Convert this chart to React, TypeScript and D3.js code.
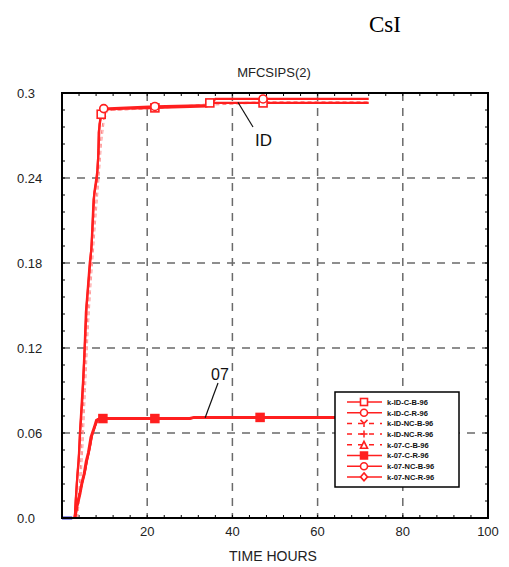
import React from "react";
import * as d3 from "d3";

// ---------- data ----------
const xTicks = [20, 40, 60, 80, 100];
const yTicks = [0.3, 0.24, 0.18, 0.12, 0.06, 0.0];
const yTickLabels = ["0.3", "0.24", "0.18", "0.12", "0.06", "0.0"];

const idCBHours = [3.0, 3.2, 3.5, 3.9, 4.2, 4.6, 5.0, 5.3, 5.6, 6.0, 6.5, 6.9, 7.4, 8.2, 8.5, 8.6, 9.2, 9.8, 15, 21.8, 34.0, 34.7, 47.2, 72];
const idCBValues = [0, 0.012, 0.025, 0.04, 0.06, 0.08, 0.1, 0.12, 0.145, 0.16, 0.18, 0.19, 0.225, 0.24, 0.255, 0.272, 0.285, 0.2885, 0.289, 0.2895, 0.2905, 0.293, 0.293, 0.293];

const idCRHours = [3.0, 3.3, 3.6, 4.0, 4.3, 4.8, 5.2, 5.5, 5.8, 6.2, 6.7, 7.0, 7.6, 8.3, 8.6, 8.8, 9.3, 9.8, 21.8, 34.7, 36.0, 47.2, 72];
const idCRValues = [0, 0.015, 0.03, 0.045, 0.062, 0.085, 0.11, 0.13, 0.15, 0.165, 0.183, 0.195, 0.23, 0.245, 0.26, 0.278, 0.287, 0.289, 0.2905, 0.2915, 0.2958, 0.2958, 0.2958];

const idNCBHours = [3.5, 4.0, 4.6, 5.2, 5.8, 6.4, 7.0, 7.6, 8.4, 9.0, 9.6, 10.4, 22, 35, 48, 72];
const idNCBValues = [0, 0.02, 0.05, 0.09, 0.13, 0.16, 0.185, 0.21, 0.24, 0.265, 0.28, 0.2875, 0.289, 0.2915, 0.293, 0.293];

const idNCRHours = [3.7, 4.3, 4.9, 5.5, 6.1, 6.7, 7.3, 7.9, 8.7, 9.3, 9.9, 10.7, 22, 35, 48, 72];
const idNCRValues = [0, 0.02, 0.05, 0.09, 0.13, 0.16, 0.185, 0.21, 0.24, 0.265, 0.28, 0.2875, 0.2895, 0.2925, 0.294, 0.294];

const o7CBHours = [3.2, 3.8, 4.5, 5.0, 5.6, 6.2, 6.8, 7.4, 8.0, 8.6, 9.4, 22, 47, 72];
const o7CBValues = [0, 0.01, 0.02, 0.03, 0.038, 0.048, 0.055, 0.062, 0.067, 0.0695, 0.0702, 0.0702, 0.0712, 0.0712];

const o7CRHours = [3.0, 3.5, 4.2, 4.7, 5.2, 5.7, 6.2, 6.8, 7.6, 8.1, 8.9, 9.6, 21.8, 30, 31, 46.5, 72];
const o7CRValues = [0, 0.008, 0.017, 0.025, 0.031, 0.04, 0.046, 0.057, 0.064, 0.069, 0.0702, 0.0702, 0.0702, 0.0702, 0.071, 0.071, 0.071];

const o7NCBHours = [3.1, 3.7, 4.4, 5.0, 5.5, 6.0, 6.6, 7.2, 7.9, 8.5, 9.2, 22, 30, 31, 72];
const o7NCBValues = [0, 0.012, 0.02, 0.028, 0.034, 0.043, 0.05, 0.06, 0.066, 0.0698, 0.07, 0.07, 0.07, 0.0708, 0.0708];

const o7NCRHours = [3.0, 3.6, 4.3, 4.9, 5.4, 6.0, 6.5, 7.1, 7.8, 8.4, 9.1, 22, 30, 31, 72];
const o7NCRValues = [0, 0.01, 0.019, 0.027, 0.033, 0.042, 0.049, 0.059, 0.065, 0.0695, 0.0704, 0.0704, 0.0704, 0.0711, 0.0711];

const blueHours = [0, 2.4];
const blueValues = [0, 0];

const seriesNames = ["k-ID-C-B-96", "k-ID-C-R-96", "k-ID-NC-B-96", "k-ID-NC-R-96", "k-07-C-B-96", "k-07-C-R-96", "k-07-NC-B-96", "k-07-NC-R-96"];

type Sym = "square" | "circle" | "tri" | "plus" | "triangle" | "fsquare" | "circle2" | "diamond";

const series: { name: string; hours: number[]; values: number[]; dashed: boolean; sym: Sym; width: number; color: string; markers: number[] }[] = [
  { name: seriesNames[2], hours: idNCBHours, values: idNCBValues, dashed: true, sym: "tri", width: 1, color: "#ff8080", markers: [] },
  { name: seriesNames[3], hours: idNCRHours, values: idNCRValues, dashed: true, sym: "plus", width: 1, color: "#ff9a9a", markers: [] },
  { name: seriesNames[0], hours: idCBHours, values: idCBValues, dashed: false, sym: "square", width: 2.2, color: "#ff1f1f", markers: [9.2, 21.8, 34.7, 47.2] },
  { name: seriesNames[1], hours: idCRHours, values: idCRValues, dashed: false, sym: "circle", width: 2.2, color: "#ff1f1f", markers: [9.8, 21.8, 47.2] },
  { name: seriesNames[4], hours: o7CBHours, values: o7CBValues, dashed: true, sym: "triangle", width: 1, color: "#ff8080", markers: [] },
  { name: seriesNames[6], hours: o7NCBHours, values: o7NCBValues, dashed: false, sym: "circle2", width: 1.8, color: "#ff2a2a", markers: [] },
  { name: seriesNames[7], hours: o7NCRHours, values: o7NCRValues, dashed: false, sym: "diamond", width: 1.8, color: "#ff2a2a", markers: [] },
  { name: seriesNames[5], hours: o7CRHours, values: o7CRValues, dashed: false, sym: "fsquare", width: 3, color: "#ff1f1f", markers: [9.6, 21.8, 46.5] },
];

const legendSyms: { sym: Sym; dashed: boolean }[] = [
  { sym: "square", dashed: false },
  { sym: "circle", dashed: false },
  { sym: "tri", dashed: true },
  { sym: "plus", dashed: true },
  { sym: "triangle", dashed: true },
  { sym: "fsquare", dashed: false },
  { sym: "circle2", dashed: false },
  { sym: "diamond", dashed: false },
];

// ---------- layout ----------
const W = 509;
const H = 567;
const M = { left: 62, right: 488, top: 93, bottom: 518 };
const FONT = "'Liberation Sans', Arial, sans-serif";

const x = d3.scaleLinear().domain([0, 100]).range([M.left, M.right]);
const y = d3.scaleLinear().domain([0, 0.3]).range([M.bottom, M.top]);

function valueAt(hours: number[], values: number[], h: number) {
  const i = d3.bisectRight(hours, h) - 1;
  return values[Math.max(0, i)];
}

function Marker({ sym, cx, cy, color, s = 4 }: { sym: Sym; cx: number; cy: number; color: string; s?: number }) {
  const common = { stroke: color, strokeWidth: 1.6, fill: "white" };
  switch (sym) {
    case "square":
      return <rect x={cx - s} y={cy - s} width={2 * s} height={2 * s} {...common} />;
    case "fsquare":
      return <rect x={cx - s} y={cy - s} width={2 * s} height={2 * s} stroke={color} strokeWidth={1.5} fill={color} />;
    case "circle":
    case "circle2":
      return <circle cx={cx} cy={cy} r={s} {...common} />;
    case "diamond":
      return <path d={`M${cx},${cy - s - 0.5}L${cx + s},${cy}L${cx},${cy + s + 0.5}L${cx - s},${cy}Z`} {...common} />;
    case "triangle":
      return <path d={`M${cx},${cy - s}L${cx + s},${cy + s}L${cx - s},${cy + s}Z`} {...common} />;
    case "plus":
      return <path d={`M${cx - s},${cy}H${cx + s}M${cx},${cy - s}V${cy + s}`} stroke={color} strokeWidth={1.5} fill="none" />;
    case "tri":
      return <path d={`M${cx},${cy}V${cy + s}M${cx},${cy}L${cx - s},${cy - s}M${cx},${cy}L${cx + s},${cy - s}`} stroke={color} strokeWidth={1.5} fill="none" />;
  }
  return null;
}

export default function App() {
  const line = d3
    .line<[number, number]>()
    .x((d) => x(d[0]))
    .y((d) => y(d[1]));

  const minorX = d3.range(0, 100.001, 4);
  const minorY = d3.range(0, 0.3001, 0.012);
  const gridX = xTicks.filter((t) => t < 100);
  const gridY = yTicks.filter((t) => t > 0 && t < 0.3);

  const legend = { x: 335, y: 392, w: 124, h: 95, row0: 402, rowH: 10.7 };

  return (
    <svg width={W} height={H} style={{ position: "absolute", left: 0, top: 0, background: "white" }}>
      <rect x={0} y={0} width={W} height={H} fill="white" />
      <text x={385} y={32} textAnchor="middle" fontFamily="'Liberation Serif', 'Times New Roman', serif" fontSize={23} fill="#000">
        CsI
      </text>
      <text x={274} y={77} textAnchor="middle" fontFamily={FONT} fontSize={13} fill="#222">
        MFCSIPS(2)
      </text>

      {/* grid */}
      {gridX.map((t) => (
        <line key={"gx" + t} x1={x(t)} x2={x(t)} y1={M.top} y2={M.bottom} stroke="#6a6a6a" strokeWidth={1.5} strokeDasharray="8,7" />
      ))}
      {gridY.map((t) => (
        <line key={"gy" + t} x1={M.left} x2={M.right} y1={y(t)} y2={y(t)} stroke="#6a6a6a" strokeWidth={1.5} strokeDasharray="8,7" />
      ))}

      {/* minor ticks */}
      {minorX.map((t) => (
        <g key={"mx" + t}>
          <line x1={x(t)} x2={x(t)} y1={M.bottom} y2={M.bottom - 3} stroke="#000" strokeWidth={1} />
          <line x1={x(t)} x2={x(t)} y1={M.top} y2={M.top + 3} stroke="#000" strokeWidth={1} />
        </g>
      ))}
      {minorY.map((t) => (
        <g key={"my" + t}>
          <line x1={M.left} x2={M.left + 3} y1={y(t)} y2={y(t)} stroke="#000" strokeWidth={1} />
          <line x1={M.right} x2={M.right - 3} y1={y(t)} y2={y(t)} stroke="#000" strokeWidth={1} />
        </g>
      ))}

      {/* series lines */}
      {series.map((s) => (
        <path
          key={s.name}
          d={line(s.hours.map((h, i) => [h, s.values[i]] as [number, number])) || ""}
          fill="none"
          stroke={s.color}
          strokeWidth={s.width}
          strokeDasharray={s.dashed ? "4,3" : undefined}
        />
      ))}
      {series.map((s) =>
        s.markers.map((h) => (
          <Marker key={s.name + h} sym={s.sym} cx={x(h)} cy={y(valueAt(s.hours, s.values, h))} color={s.color} />
        ))
      )}
      <path
        d={line(blueHours.map((h, i) => [h, blueValues[i]] as [number, number])) || ""}
        fill="none"
        stroke="#2a2ad0"
        strokeWidth={3}
      />

      {/* annotations */}
      <line x1={x(41.3)} y1={y(0.2935)} x2={253} y2={127} stroke="#111" strokeWidth={1.2} />
      <text x={255} y={146} fontFamily={FONT} fontSize={17} fill="#111">
        ID
      </text>
      <line x1={x(33.6)} y1={y(0.0708)} x2={218} y2={383} stroke="#111" strokeWidth={1.2} />
      <text x={211} y={380} fontFamily={FONT} fontSize={16} fill="#111">
        07
      </text>

      {/* frame */}
      <rect x={M.left} y={M.top} width={M.right - M.left} height={M.bottom - M.top} fill="none" stroke="#000" strokeWidth={2} />

      {/* tick labels */}
      {yTicks.map((t, i) => (
        <text key={"yl" + t} x={17} y={y(t) + 5} fontFamily={FONT} fontSize={13} fill="#222">
          {yTickLabels[i]}
        </text>
      ))}
      {xTicks.map((t) => (
        <text key={"xl" + t} x={x(t)} y={536} textAnchor="middle" fontFamily={FONT} fontSize={13} fill="#222">
          {t}
        </text>
      ))}
      <text x={273} y={561} textAnchor="middle" fontFamily={FONT} fontSize={14} fill="#222">
        TIME HOURS
      </text>

      {/* legend */}
      <rect x={legend.x} y={legend.y} width={legend.w} height={legend.h} fill="white" stroke="#000" strokeWidth={1.5} />
      {seriesNames.map((n, i) => {
        const ry = legend.row0 + i * legend.rowH;
        const ls = legendSyms[i];
        return (
          <g key={"lg" + n}>
            <line x1={347} x2={382} y1={ry} y2={ry} stroke="#ff1f1f" strokeWidth={1.5} strokeDasharray={ls.dashed ? "5,6" : undefined} />
            <Marker sym={ls.sym} cx={364} cy={ry} color="#ff1f1f" s={3.5} />
            <text x={387} y={ry + 2.8} fontFamily={FONT} fontSize={7.5} fontWeight="bold" fill="#111">
              {n}
            </text>
          </g>
        );
      })}
    </svg>
  );
}
